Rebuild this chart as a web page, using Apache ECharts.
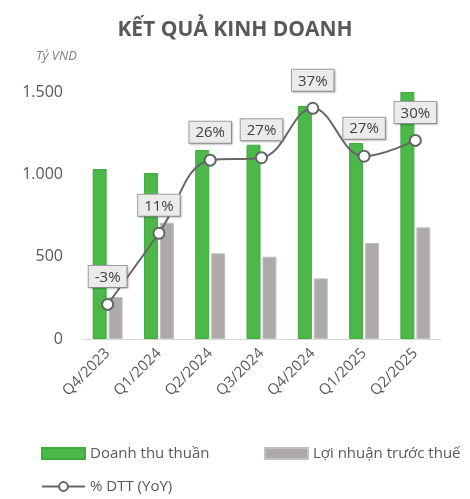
<!DOCTYPE html>
<html lang="vi">
<head>
	<meta charset="UTF-8">
	<title>Kết quả kinh doanh</title>
	<script src="https://cdn.jsdelivr.net/npm/echarts@6/dist/echarts.min.js"></script>
	<style>
		html, body { margin: 0; padding: 0; background: #fff; }
		#chart { width: 470px; height: 499px; }
	</style>
</head>
<body>
	<div id="chart"></div>
	<script>
		var quarters = ['Q4/2023', 'Q1/2024', 'Q2/2024', 'Q3/2024', 'Q4/2024', 'Q1/2025', 'Q2/2025'];
		var revenue = [1032, 1008, 1148, 1180, 1415, 1190, 1500];
		var profit = [255, 706, 520, 500, 368, 583, 678];
		var revenueYoY = [-3, 11.4, 26.2, 26.7, 36.7, 27, 30.2];
		var yTicks = ['0', '500', '1.000', '1.500'];

		var font = '"Open Sans", "Noto Sans", sans-serif';
		var chart = echarts.init(document.getElementById('chart'));

		// one legend per item so they sit where the reference has them
		function legendAt(name, left, top, icon) {
			var l = {
				data: [name],
				left: left,
				top: top,
				itemWidth: 43,
				itemHeight: 11,
				textStyle: { fontSize: 15, color: '#595959', fontFamily: font }
			};
			if (icon) l.icon = icon;
			return l;
		}

		var option = {
			animation: false,
			textStyle: { fontFamily: font },
			title: {
				text: 'KẾT QUẢ KINH DOANH',
				left: 'center',
				top: 15,
				textStyle: { fontSize: 21, fontWeight: 'bold', color: '#595959', fontFamily: font }
			},
			graphic: [{
				type: 'text',
				left: 36,
				top: 50,
				style: { text: 'Tỷ VND', fontSize: 13, fontStyle: 'italic', fill: '#7f7f7f', fontFamily: font }
			}],
			legend: [
				legendAt('Doanh thu thuần', 36, 441, 'rect'),
				legendAt('Lợi nhuận trước thuế', 259, 441, 'rect'),
				legendAt('% DTT (YoY)', 36, 474)
			],
			grid: { left: 82, right: 29, top: 92, bottom: 160 },
			xAxis: {
				type: 'category',
				data: quarters,
				axisLine: { lineStyle: { color: '#d9d9d9', width: 1 } },
				axisTick: { show: false },
				axisLabel: { rotate: 45, fontSize: 15, color: '#595959', margin: 12, fontFamily: font }
			},
			yAxis: [{
				type: 'value',
				min: 0,
				max: 1500,
				interval: 500,
				splitLine: { show: false },
				axisLine: { show: false },
				axisTick: { show: false },
				axisLabel: {
					fontSize: 16, color: '#595959', margin: 19, fontFamily: font,
					formatter: function (v) { return yTicks[v / 500]; }
				}
			}, {
				type: 'value',
				min: -10,
				max: 40,
				show: false,
				splitLine: { show: false }
			}],
			series: [{
				name: 'Doanh thu thuần',
				type: 'bar',
				data: revenue,
				barWidth: 14,
				barGap: '14%',
				itemStyle: { color: '#4cb84a', borderColor: '#3eab3c', borderWidth: 1 }
			}, {
				name: 'Lợi nhuận trước thuế',
				type: 'bar',
				data: profit,
				barWidth: 14,
				itemStyle: { color: '#aeaaaa', borderColor: '#c4c0c0', borderWidth: 1 }
			}, {
				name: '% DTT (YoY)',
				type: 'line',
				yAxisIndex: 1,
				data: revenueYoY,
				smooth: 0.4,
				symbol: 'circle',
				symbolSize: 11,
				lineStyle: { color: '#666666', width: 2 },
				itemStyle: { color: '#ffffff', borderColor: '#666666', borderWidth: 2 },
				z: 5,
				label: {
					show: true,
					position: 'top',
					distance: 11,
					formatter: function (p) { return Math.round(p.value) + '%'; },
					fontSize: 15,
					color: '#404040',
					fontFamily: font,
					backgroundColor: '#ebebeb',
					borderColor: '#a0a0a0',
					borderWidth: 1,
					padding: [4, 6, 2, 6],
					shadowColor: 'rgba(0,0,0,0.2)',
					shadowBlur: 2,
					shadowOffsetX: 1,
					shadowOffsetY: 1
				}
			}]
		};

		chart.setOption(option);
	</script>
</body>
</html>
